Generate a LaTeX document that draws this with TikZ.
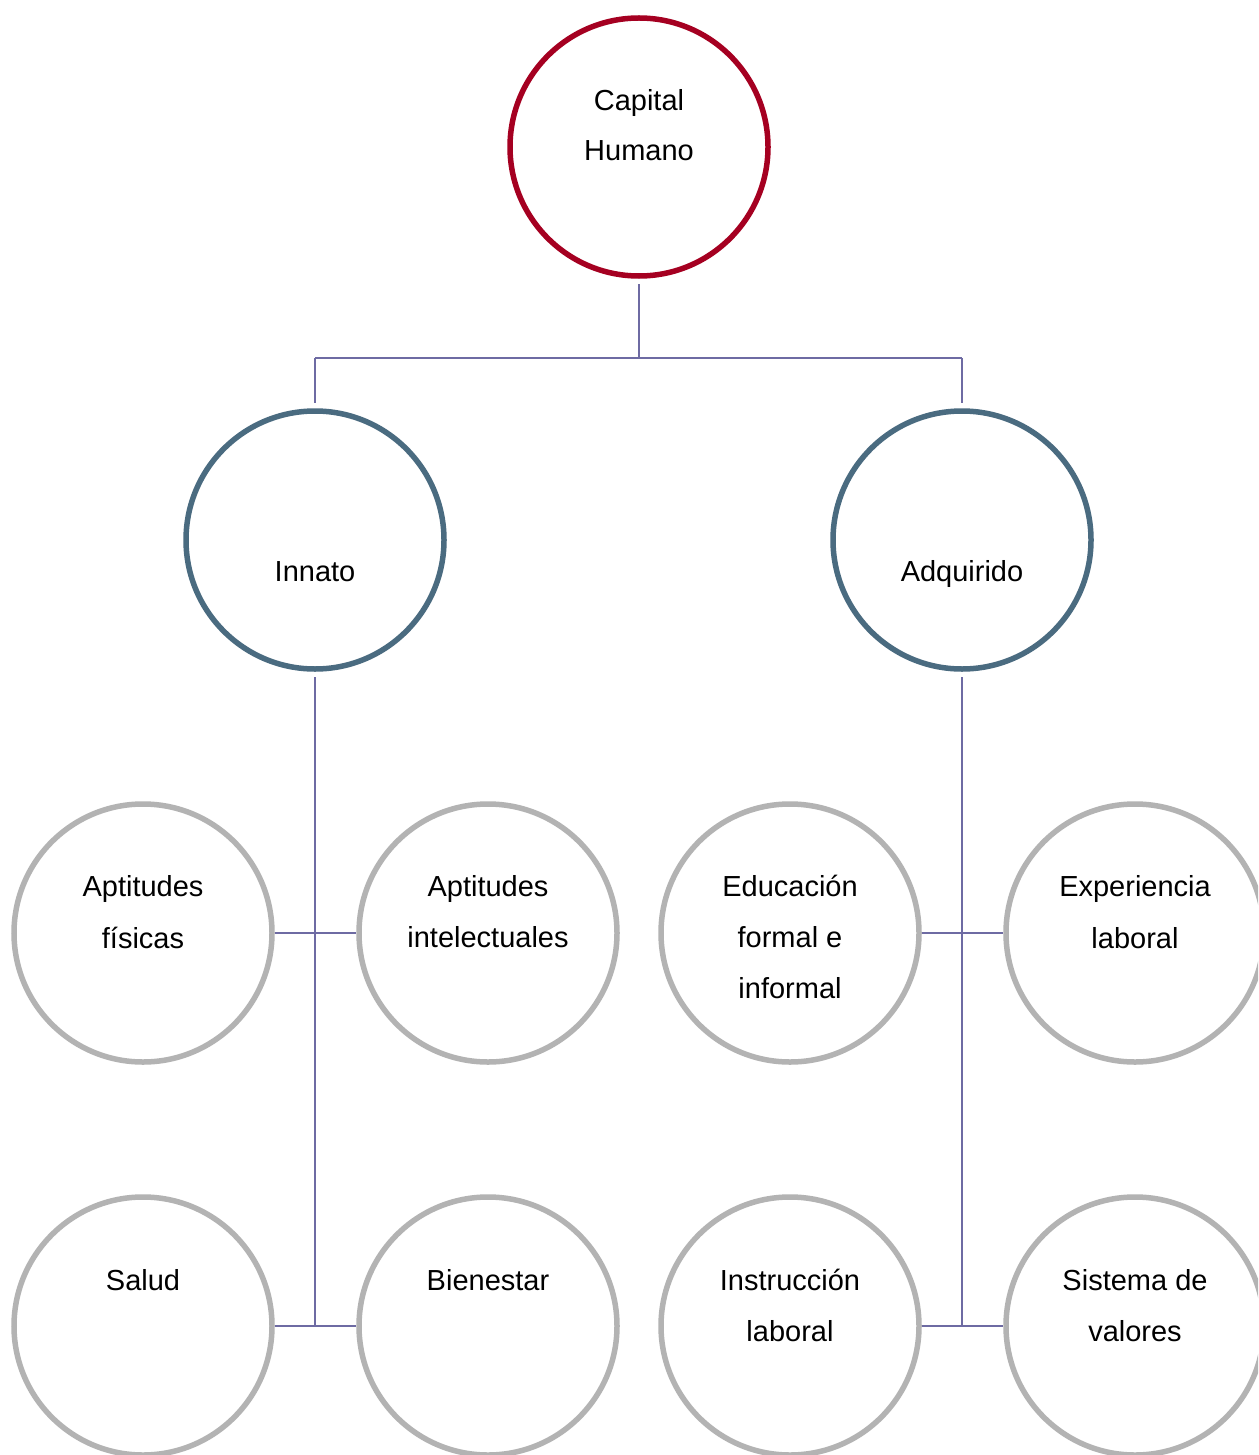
\documentclass[tikz,border=0pt]{standalone}
\usepackage{fontspec}
\setmainfont{Liberation Sans}
\definecolor{topred}{HTML}{A50021}
\definecolor{midblue}{HTML}{4A6B80}
\definecolor{leafgray}{HTML}{B3B3B3}
\definecolor{linkpurple}{HTML}{6E6BA3}
\begin{document}
\begin{tikzpicture}[x=1pt,y=-1pt,
  circ/.style={circle,draw,line width=5.5pt,minimum size=258pt,inner sep=0pt,outer sep=0pt,fill=white},
  topc/.style={circ,draw=topred},
  midc/.style={circ,draw=midblue},
  leafc/.style={circ,draw=leafgray},
  lbl/.style={anchor=base,font=\fontsize{29pt}{51pt}\selectfont,inner sep=0pt},
  link/.style={draw=linkpurple,line width=2pt}]
\clip (0,0) rectangle (1258,1455);
\fill[white] (0,0) rectangle (1258,1455);
% circles
\node[topc] (cap) at (639,147) {};
\node[midc] (inn) at (315,540) {};
\node[midc] (adq) at (962,540) {};
\node[leafc] (apf) at (143,933) {};
\node[leafc] (api) at (488,933) {};
\node[leafc] (edu) at (790,933) {};
\node[leafc] (exp) at (1135,933) {};
\node[leafc] (sal) at (143,1326) {};
\node[leafc] (bie) at (488,1326) {};
\node[leafc] (ins) at (790,1326) {};
\node[leafc] (sis) at (1135,1326) {};
% junction coordinates
\coordinate (jtop) at (639,358);
\coordinate (jinn) at (315,358);
\coordinate (jadq) at (962,358);
\coordinate (iend) at (315,1326);
\coordinate (aend) at (962,1326);
\coordinate (i1) at (315,933);
\coordinate (a1) at (962,933);
% connectors (small gaps at the vertical ends, as in the reference)
\draw[link] ([yshift=-8pt]cap.south) -- (jtop);
\draw[link] (jinn) -- (jadq);
\draw[link] (jinn) -- ([yshift=8pt]inn.north);
\draw[link] (jadq) -- ([yshift=8pt]adq.north);
\draw[link] ([yshift=-8pt]inn.south) -- (iend);
\draw[link] ([yshift=-8pt]adq.south) -- (aend);
\draw[link] ([xshift=2.75pt]apf.east) -- (i1) -- ([xshift=-2.75pt]api.west);
\draw[link] ([xshift=2.75pt]sal.east) -- (iend) -- ([xshift=-2.75pt]bie.west);
\draw[link] ([xshift=2.75pt]edu.east) -- (a1) -- ([xshift=-2.75pt]exp.west);
\draw[link] ([xshift=2.75pt]ins.east) -- (aend) -- ([xshift=-2.75pt]sis.west);
% labels
\node[lbl] (tcap1) at (639,111) {Capital};
\node[lbl] (tcap2) at (639,161) {Humano};
\node[lbl] (tinn) at (315,581) {Innato};
\node[lbl] (tadq) at (962,581) {Adquirido};
\node[lbl] (tapf1) at (143,896) {Aptitudes};
\node[lbl] (tapf2) at (143,948) {físicas};
\node[lbl] (tapi1) at (488,896) {Aptitudes};
\node[lbl] (tapi2) at (488,947) {intelectuales};
\node[lbl] (tedu1) at (790,896) {Educación};
\node[lbl] (tedu2) at (790,947) {formal e};
\node[lbl] (tedu3) at (790,998) {informal};
\node[lbl] (texp1) at (1135,896) {Experiencia};
\node[lbl] (texp2) at (1135,948) {laboral};
\node[lbl] (tsal) at (143,1290) {Salud};
\node[lbl] (tbie) at (488,1290) {Bienestar};
\node[lbl] (tins1) at (790,1290) {Instrucción};
\node[lbl] (tins2) at (790,1341) {laboral};
\node[lbl] (tsis1) at (1135,1290) {Sistema de};
\node[lbl] (tsis2) at (1135,1341) {valores};
\end{tikzpicture}
\end{document}
